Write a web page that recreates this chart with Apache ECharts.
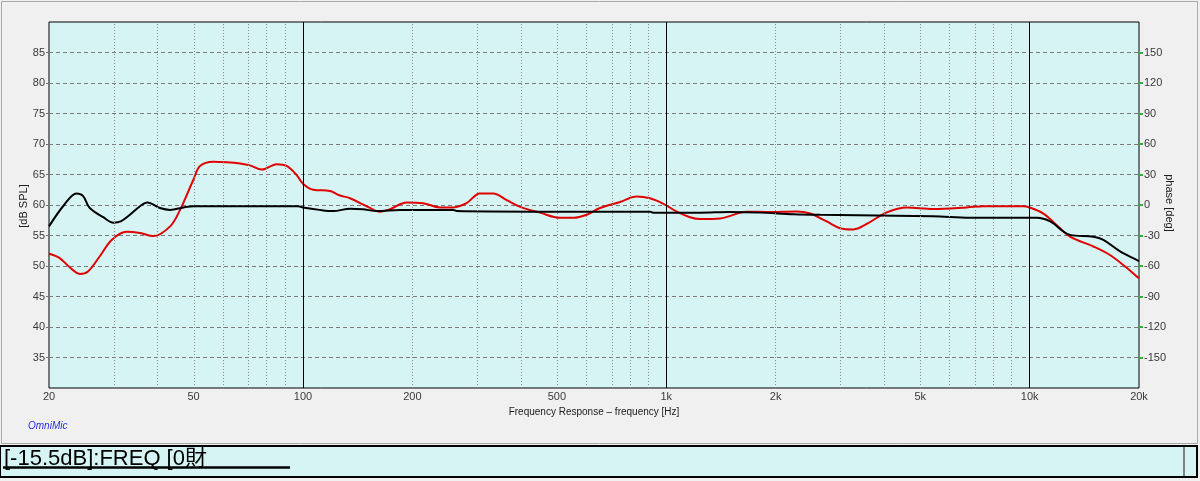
<!DOCTYPE html>
<html>
<head>
<meta charset="utf-8">
<script src="https://cdn.jsdelivr.net/npm/echarts@6/dist/echarts.min.js"></script>
<style>
  html, body { margin: 0; padding: 0; background: #f0f0f0; }
  #chart { width: 1200px; height: 481px; }
</style>
</head>
<body>
<div id="chart"></div>
<script>
// ---- data ----
const xTickFreqs = [20, 50, 100, 200, 500, 1000, 2000, 5000, 10000, 20000];
const xTickLabels = ['20', '50', '100', '200', '500', '1k', '2k', '5k', '10k', '20k'];
const leftTicks = [35, 40, 45, 50, 55, 60, 65, 70, 75, 80, 85];
const rightTicks = [-150, -120, -90, -60, -30, 0, 30, 60, 90, 120, 150];
const minorGridFreqs = [30, 40, 50, 60, 70, 80, 90, 200, 300, 400, 500, 600, 700, 800, 900,
                        2000, 3000, 4000, 5000, 6000, 7000, 8000, 9000];
const majorGridFreqs = [100, 1000, 10000];

const blackFreq = [20, 22, 23.8, 24.8, 25.9, 28.2, 30.1, 31.5, 33.4, 35.6, 37.3, 40.4, 43.1, 46.9,
  50, 97, 100, 111, 121, 135, 146, 160, 185, 259, 265, 429, 902, 920, 1239, 1497, 1812, 2238,
  2650, 5424, 6858, 10468, 11388, 12920, 14980, 15960, 17740, 19700, 20000];
const blackDb = [56.5, 60.0, 61.9, 61.5, 59.5, 58.0, 57.1, 57.3, 58.4, 59.8, 60.4, 59.5, 59.2, 59.6,
  59.8, 59.8, 59.6, 59.2, 59.0, 59.4, 59.3, 59.0, 59.2, 59.2, 59.0, 58.9, 58.9, 58.75, 58.75, 58.85,
  58.75, 58.5, 58.4, 58.15, 57.9, 57.9, 57.3, 55.1, 54.8, 54.3, 52.4, 51.0, 50.8];

const redFreq = [20, 21.4, 22.8, 24.3, 25.6, 27.6, 29.8, 32.7, 35.6, 38.7, 43.1, 45.9, 49.9, 52.1,
  56.7, 61.7, 67.1, 71.5, 77, 84.7, 90.2, 96.1, 100, 106.8, 118.7, 126, 134.7, 149.8, 162.9, 173.6,
  193, 214, 238, 259, 282, 307, 334, 364, 396, 449, 510, 555, 604, 657, 746, 829, 902, 982, 1069,
  1162, 1239, 1406, 1665, 1890, 2286, 2488, 2764, 3008, 3274, 3563, 4045, 4590, 5424, 6714, 7460,
  9612, 10000, 10910, 11880, 12920, 14980, 16640, 18500, 19700, 20000];
const redDb = [52.0, 51.3, 49.8, 48.7, 49.1, 51.6, 54.3, 55.6, 55.4, 54.9, 56.5, 59.2, 64.1, 66.4,
  67.1, 67.0, 66.8, 66.5, 65.8, 66.7, 66.4, 64.9, 63.5, 62.5, 62.3, 61.6, 61.1, 59.8, 58.9, 59.3,
  60.4, 60.3, 59.6, 59.6, 60.3, 61.9, 61.9, 60.8, 59.7, 58.75, 57.9, 57.9, 58.4, 59.5, 60.5, 61.4,
  61.1, 60.2, 58.9, 58.0, 57.7, 57.8, 58.9, 58.85, 58.95, 58.6, 57.3, 56.2, 56.0, 56.9, 58.8, 59.6,
  59.35, 59.6, 59.8, 59.8, 59.6, 58.6, 56.7, 54.8, 53.2, 51.8, 49.7, 48.3, 48.0];

const statusText = '[-15.5dB]:FREQ [0財';

// ---- chart ----
const lg = Math.log10;
const toPts = (fs, vs) => fs.map((f, i) => [lg(f), vs[i]]);
const narrow = "'Liberation Sans Narrow', 'Liberation Sans', Arial, sans-serif";
const labelColor = '#3a3a3a';

const chart = echarts.init(document.getElementById('chart'), null, { renderer: 'canvas' });

const gridLineData = [];
minorGridFreqs.forEach(f => gridLineData.push({
  xAxis: lg(f), lineStyle: { color: '#8c8c8c', type: [1, 2], width: 1 }
}));
majorGridFreqs.forEach(f => gridLineData.push({
  xAxis: lg(f), lineStyle: { color: '#000000', type: 'solid', width: 1 }
}));

chart.setOption({
  animation: false,
  backgroundColor: '#f0f0f0',
  grid: {
    left: 49, right: 61, top: 22, bottom: 93,
    show: true, backgroundColor: '#d6f4f4', borderColor: '#000', borderWidth: 1
  },
  xAxis: {
    type: 'value',
    min: lg(20), max: lg(20000),
    axisLine: { show: false },
    axisTick: { show: false },
    splitLine: { show: false },
    axisLabel: {
      customValues: xTickFreqs.map(lg),
      margin: 3,
      color: labelColor,
      fontFamily: narrow,
      fontSize: 11,
      formatter: function (v) {
        let best = 0, d = 1e9;
        xTickFreqs.forEach((f, i) => { const dd = Math.abs(lg(f) - v); if (dd < d) { d = dd; best = i; } });
        return xTickLabels[best];
      }
    },
    name: 'Frequency Response – frequency [Hz]',
    nameLocation: 'middle',
    nameGap: 17,
    nameTextStyle: { color: '#202020', fontFamily: narrow, fontSize: 10 }
  },
  yAxis: [
    {
      type: 'value', min: 30, max: 90, interval: 5, position: 'left',
      axisLine: { show: false },
      axisTick: { show: true, length: 3, customValues: leftTicks, lineStyle: { color: '#707070' } },
      splitLine: { show: true, lineStyle: { color: '#7a7a7a', type: [4, 3], width: 1 } },
      axisLabel: {
        margin: 4, color: labelColor, fontFamily: narrow, fontSize: 11,
        customValues: leftTicks,
        formatter: v => String(v)
      }
    },
    {
      type: 'value', min: -180, max: 180, interval: 30, position: 'right',
      axisLine: { show: false },
      axisTick: { show: true, length: 4, inside: false, customValues: rightTicks, lineStyle: { color: '#30b030', width: 2 } },
      splitLine: { show: false },
      axisLabel: {
        margin: 5, color: labelColor, fontFamily: narrow, fontSize: 11,
        customValues: rightTicks,
        formatter: v => String(v)
      }
    }
  ],
  series: [
    {
      type: 'line', z: 1, silent: true, symbol: 'none',
      data: [[lg(20), 30]],
      lineStyle: { opacity: 0 },
      markLine: {
        silent: true, symbol: ['none', 'none'], label: { show: false },
        animation: false, data: gridLineData
      }
    },
    {
      name: 'red', type: 'line', z: 3, symbol: 'none', smooth: 0.35,
      data: toPts(redFreq, redDb),
      lineStyle: { color: '#e00000', width: 2 }
    },
    {
      name: 'black', type: 'line', z: 4, symbol: 'none', smooth: 0.35,
      data: toPts(blackFreq, blackDb),
      lineStyle: { color: '#000000', width: 2 }
    }
  ],
  graphic: [
    { type: 'rect', z: -10, silent: true, shape: { x: 1.5, y: 1.5, width: 1196, height: 442 },
      style: { fill: 'none', stroke: '#a8a8a8', lineWidth: 1 } },
    { type: 'text', silent: true, x: 24, y: 206, rotation: Math.PI / 2,
      style: { text: '[dB SPL]', fill: '#202020', font: "11px " + narrow, align: 'center', verticalAlign: 'middle' } },
    { type: 'text', silent: true, x: 1169, y: 203, rotation: -Math.PI / 2,
      style: { text: 'phase [deg]', fill: '#202020', font: "11px " + narrow, align: 'center', verticalAlign: 'middle' } },
    { type: 'text', silent: true, x: 28, y: 426,
      style: { text: 'OmniMic', fill: '#2a2ae6', font: "italic 10px " + narrow, align: 'left', verticalAlign: 'middle' } },
    { type: 'rect', silent: true, shape: { x: 0, y: 446, width: 1197, height: 31 },
      style: { fill: '#d6f4f4', stroke: '#000', lineWidth: 2 } },
    { type: 'line', silent: true, shape: { x1: 1184, y1: 447, x2: 1184, y2: 476 },
      style: { stroke: '#808080', lineWidth: 2 } },
    { type: 'text', silent: true, x: 4, y: 459,
      style: { text: statusText, fill: '#000', font: "22px 'Liberation Sans', 'Noto Sans CJK JP', Arial, sans-serif", align: 'left', verticalAlign: 'middle' } },
    { type: 'line', silent: true, shape: { x1: 3, y1: 467.5, x2: 290, y2: 467.5 },
      style: { stroke: '#000', lineWidth: 2.5 } }
  ]
});
</script>
</body>
</html>
